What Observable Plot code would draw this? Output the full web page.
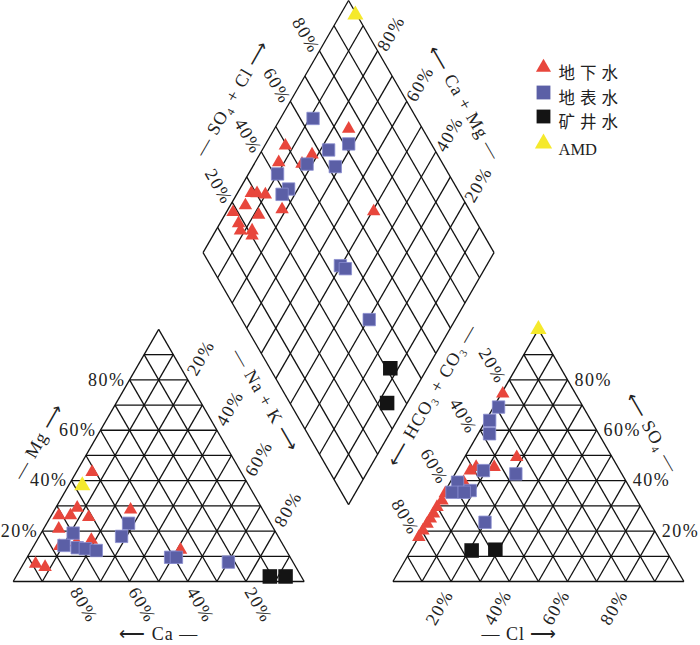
<!DOCTYPE html>
<html><head><meta charset="utf-8">
<script src="https://cdn.jsdelivr.net/npm/d3@7"></script>
<script src="https://cdn.jsdelivr.net/npm/@observablehq/plot@0.6"></script>
<style>body{margin:0;background:#fff}</style>
</head><body><div id="chart"></div><script>
// ---------------- data ----------------
const groups = ["地下水", "地表水", "矿井水", "AMD"];
const colors = ["#e8463c", "#5b5fa6", "#141414", "#f5e92c"];
const ticks = [20, 40, 60, 80];

// cation triangle: [Mg %, Na+K %]
const groundCation = [[43.4,5.4],[26.2,2.6],[26.2,6.6],[29.2,7.4],[25.5,13.2],[20.9,5.2],[16.5,18.6],[28.5,26.1],[7.0,4.2],[5.7,8.1],[12.6,51.2],[14,9],[15.5,14]];
const surfaceCation = [[19.2,11.0],[14.3,10.3],[13.4,15.3],[13.0,18.3],[12.3,22.4],[23.1,28.1],[17.9,28.3],[9.6,49.3],[9.6,51.3],[7.7,70.1]];
const mineCation = [[2.0,87.2],[2.0,92.6]];
const amdCation = [[38.1,4.7]];

// anion triangle: [SO4 %, Cl %]
const groundAnion = [[74.5,0.5],[49.3,17.9],[45.4,12.1],[44.0,4.6],[45.4,5.9],[39.4,4.6],[35.0,0.5],[32.1,0.8],[29.5,0.4],[26.9,0.5],[24.9,0.4],[22.9,0.3],[20.2,0.2],[17.6,0.1]];
const surfaceAnion = [[69.2,1.7],[63.9,1.3],[58.6,3.9],[44.0,9.1],[42.7,20.9],[39.4,2.5],[35.4,2.6],[36.1,8.5],[35.4,6.8],[23.5,19.9]];
const mineAnion = [[12.3,20.9],[12.6,28.9]];
const amdAnion = [[100,0]];

// diamond: [Na+K %, HCO3+CO3 %]
const groundDiamond = [[25.5,25.4],[7.1,50.5],[18.0,43.1],[8.1,56.1],[16.4,48.4],[4.8,71.6],[6.8,69.7],[9.9,67.1],[5.2,76.1],[2.3,81.7],[11.6,73.4],[18.6,64.3],[6.4,82.0],[8.5,82.8],[12.5,78.8],[13.5,79.8],[50.5,33.2]];
const surfaceDiamond = [[11.2,35.6],[28.5,28.4],[22.8,36.5],[28.4,37.5],[18.2,46.7],[10.0,58.8],[16.8,58.0],[15.6,61.3],[49.8,55.4],[52.1,54.3],[70.4,56.2]];
const mineDiamond = [[87.3,58.6],[93.1,66.6]];
const amdDiamond = [[5.2,0.5]];

// ---------------- geometry ----------------
const H = Math.sqrt(3) / 2, G = 30.5;
const L = (mg, nak) => [nak + mg / 2, mg * H];                 // cation triangle
const R = (so4, cl) => [100 + G + cl + so4 / 2, so4 * H];       // anion triangle
const D = (n, h) => [100 + G / 2 + (n - h) / 2, (200 + G) * H - (n + h) * H]; // diamond

const segs = [];
const add = (a, b) => segs.push({x1: a[0], y1: a[1], x2: b[0], y2: b[1]});
for (let k = 0; k <= 10; k++) {
  const v = k * 10;
  if (v < 100) {
    add(L(v, 0), L(v, 100 - v)); add(L(0, v), L(100 - v, v)); add(L(0, 100 - v), L(100 - v, 0));
    add(R(v, 0), R(v, 100 - v)); add(R(0, v), R(100 - v, v)); add(R(0, 100 - v), R(100 - v, 0));
  }
  add(D(v, 0), D(v, 100)); add(D(0, v), D(100, v));
}

const sets = [
  {g: 0, cat: groundCation, an: groundAnion, di: groundDiamond},
  {g: 1, cat: surfaceCation, an: surfaceAnion, di: surfaceDiamond},
  {g: 2, cat: mineCation, an: mineAnion, di: mineDiamond},
  {g: 3, cat: amdCation, an: amdAnion, di: amdDiamond}
];
const pts = [];
for (const s of sets) {
  for (const [a, b] of s.cat) { const p = L(a, b); pts.push({x: p[0], y: p[1], g: s.g}); }
  for (const [a, b] of s.an) { const p = R(a, b); pts.push({x: p[0], y: p[1], g: s.g}); }
  for (const [a, b] of s.di) { const p = D(a, b); pts.push({x: p[0], y: p[1], g: s.g}); }
}
const symbols = ["triangle", "square", "square", "triangle"];
const radii = [5, 7, 8.2, 6];
const byGroup = g => pts.filter(d => d.g === g);

const FONT = "Liberation Serif, Times New Roman, serif";
const tickText = (fn, opts) => Plot.text(ticks.map(t => ({p: fn(t), t})), {
  x: d => d.p[0], y: d => d.p[1], text: d => d.t + "%", fontSize: 18, fontFamily: FONT,
  fill: "#222", ...opts
});
const title = (p, txt, opts) => Plot.text([txt], {x: () => p[0], y: () => p[1], text: d => d, fontSize: 18,
  fontFamily: FONT, fill: "#222", ...opts});

const marks = [
  Plot.link(segs, {x1: "x1", y1: "y1", x2: "x2", y2: "y2", stroke: "#111", strokeWidth: 1.3}),
  // tick labels
  tickText(t => L(t, 0), {textAnchor: "end", dx: -4}),
  tickText(t => L(100 - t, t), {rotate: -60, dx: 13, dy: -22}),
  tickText(t => L(0, 100 - t), {rotate: 60, dx: 12.5, dy: 23.5}),
  tickText(t => R(t, 100 - t), {textAnchor: "start", dx: 7}),
  tickText(t => R(100 - t, 0), {rotate: 60, dx: -17, dy: -14}),
  tickText(t => R(0, t), {rotate: -60, dx: -11.5, dy: 26}),
  tickText(t => D(0, 100 - t), {rotate: 60, dx: -13.5, dy: -15.5}),
  tickText(t => D(100 - t, 0), {rotate: -60, dx: 13.5, dy: -17.5}),
  // axis titles
  title(L(55, 0), "— Mg ⟶", {rotate: -60, dx: -54.7, dy: -1.4}),
  title(L(50, 50), "— Na + K ⟶", {rotate: 60, dx: 34, dy: -55}),
  title(L(0, 50), "⟵ Ca —", {dy: 53}),
  title(R(0, 50), "— Cl ⟶", {dx: -19, dy: 53}),
  title(R(50, 0), "⟵ HCO₃ + CO₃ —", {rotate: -60, dx: -33.5, dy: -60}),
  title(R(50, 50), "⟵ SO₄ —", {rotate: 60, dx: 41, dy: -23}),
  title(D(0, 50), "— SO₄ + Cl ⟶", {rotate: -60, dx: -44, dy: -28.5}),
  title(D(50, 0), "⟵ Ca + Mg —", {rotate: 60, dx: 43, dy: -23.5}),
];
for (let g = 0; g < 4; g++) {
  marks.push(Plot.dot(byGroup(g), {x: "x", y: "y", symbol: () => symbols[g], r: radii[g], fill: colors[g],
    stroke: g === 1 ? "#8a8ed0" : "none", strokeWidth: 0.8}));
}
// legend
const legY = [67, 92, 116, 143];
const legR = [5.6, 7.8, 7.8, 6.4];
groups.forEach((name, i) => {
  marks.push(Plot.dot([name], {frameAnchor: "top-left", dx: 543, dy: legY[i], symbol: () => symbols[i], r: legR[i], fill: colors[i]}));
  marks.push(Plot.text([name], {frameAnchor: "top-left", dx: 558, dy: legY[i], text: d => d, textAnchor: "start",
    fontSize: 16.5, fontFamily: "Liberation Serif, Noto Sans CJK SC, serif", fill: "#222"}));
});

const chart = Plot.plot({
  width: 700, height: 645, margin: 0,
  x: {domain: [0, 200 + G], range: [12.7, 683.4], axis: null},
  y: {domain: [0, (200 + G) * H], range: [581, 0], axis: null},
  symbol: {type: "identity"},
  style: {background: "#fff", fontFamily: FONT},
  marks
});
// letter spacing tweaks
d3.select(chart).selectAll("text").each(function() {
  const t = this.textContent;
  if (/^\d+%$/.test(t)) this.setAttribute("letter-spacing", "1.5");
  else if (/[⟶⟵]/.test(t)) this.setAttribute("letter-spacing", "1");
  else if (groups.slice(0, 3).includes(t)) this.setAttribute("letter-spacing", "5");
});
document.getElementById("chart").appendChild(chart);
</script></body></html>
